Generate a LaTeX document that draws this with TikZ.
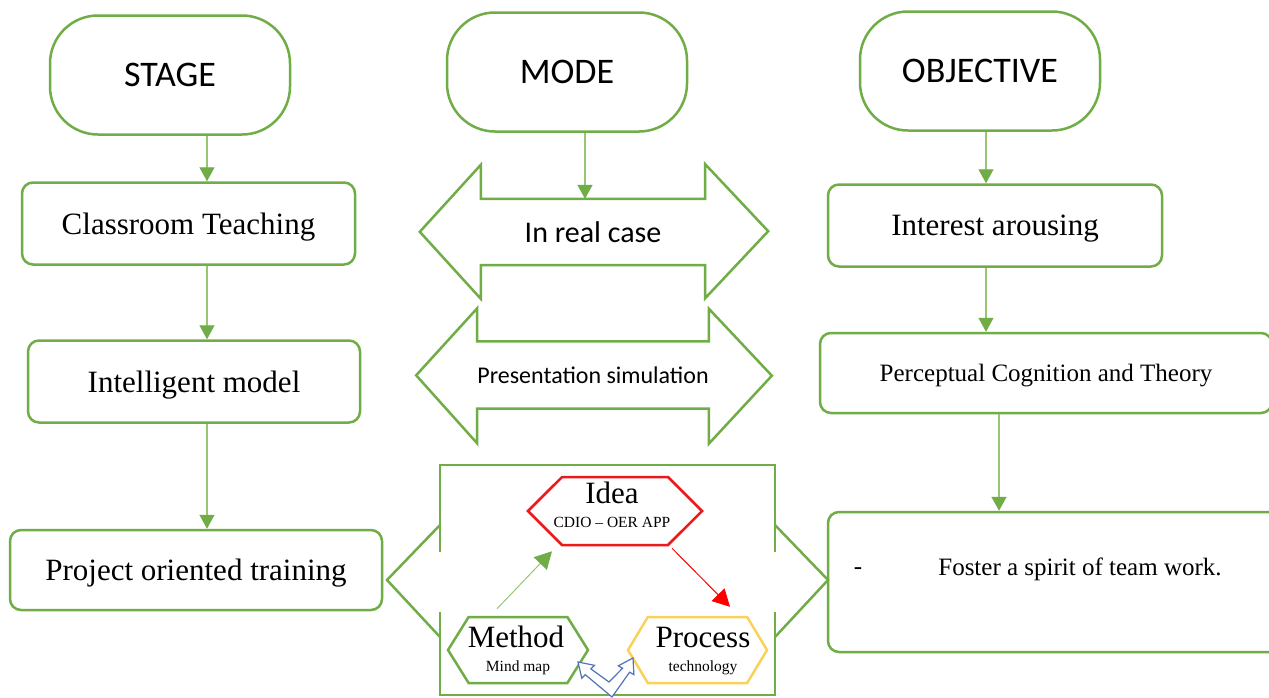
\documentclass[tikz,border=0pt]{standalone}
\usepackage{fontspec}
\setmainfont{Liberation Serif}
\newfontfamily\calib{Carlito}
\usetikzlibrary{arrows.meta,shapes.symbols}
\definecolor{boxgreen}{RGB}{112,173,71}
\definecolor{linkgreen}{RGB}{150,200,115}
\definecolor{ideared}{RGB}{235,25,25}
\definecolor{procyellow}{RGB}{250,210,90}
\definecolor{swapblue}{RGB}{80,115,185}

\begin{document}
\begin{tikzpicture}[x=1pt,y=-1pt,
    head/.style={draw=boxgreen,line width=2.5pt,rounded corners=48pt,minimum width=240pt,minimum height=119pt,font=\calib\fontsize{36}{40}\selectfont},
    box/.style={draw=boxgreen,line width=2.5pt,rounded corners=11pt,minimum height=82pt,text depth=0pt,font=\fontsize{31}{36}\selectfont},
    link/.style={draw=linkgreen,line width=1.4pt,-{Triangle[width=15pt,length=14pt,color=boxgreen]}},
    band/.style={draw=boxgreen,line width=2.5pt},
    shaft/.style={minimum width=224pt,inner sep=0pt,font=\calib\fontsize{30}{34}\selectfont},
    hexa/.style={shape=signal,signal to=west and east,line width=2.5pt,fill=white,inner sep=0pt,minimum height=66pt},
    big/.style={inner sep=0pt,text depth=0pt,font=\fontsize{31}{34}\selectfont},
    small/.style={inner sep=0pt,text depth=0pt,font=\fontsize{15.5}{18}\selectfont}]
    \fill[white] (0,0) rectangle (1269,697);
    \useasboundingbox (0,0) rectangle (1269,697);
    \coordinate (colA) at (207,0);
    \coordinate (colB) at (585,0);
    \coordinate (colC) at (986,0);
    \coordinate (colD) at (999,0);
    % headings
    \node[head] (stage) at (170,75) {STAGE};
    \node[head] (mode) at (567,72) {MODE};
    \node[head] (objective) at (980,71) {OBJECTIVE};
    % stage column
    \node[box,minimum width=333pt] (classroom) at (188.5,223.5) {Classroom Teaching};
    \node[box,minimum width=332pt] (intelligent) at (194,381.5) {Intelligent model};
    \node[box,minimum width=372pt,minimum height=80pt] (project) at (196,570) {Project oriented training};
    \draw[link] (stage.south -| colA) -- (classroom.north -| colA);
    \draw[link] (classroom.south -| colA) -- (intelligent.north -| colA);
    \draw[link] (intelligent.south -| colA) -- (project.north -| colA);
    % objective column
    \node[box,minimum width=334pt] (interest) at (995,225.5) {Interest arousing};
    \node[box,minimum width=452pt,minimum height=80pt,font=\fontsize{25}{30}\selectfont] (perceptual) at (1046,373) {Perceptual Cognition and Theory};
    \node[box,minimum width=462pt,minimum height=140pt] (foster) at (1059,582) {};
    \node[font=\fontsize{25}{30}\selectfont,text depth=0pt] (dash) at (858,571) {-};
    \node[font=\fontsize{25}{30}\selectfont,text depth=0pt] (team) at (1080,567) {Foster a spirit of team work.};
    \draw[link] (objective.south -| colC) -- (interest.north -| colC);
    \draw[link] (interest.south -| colC) -- (perceptual.north -| colC);
    \draw[link] (perceptual.south -| colD) -- (foster.north -| colD);
    % mode column
    \node[shaft,minimum height=66pt] (realcase) at (593,232) {In real case};
    \draw[band] (realcase.north west) -- ++(0,-34) -- ++(-61,67) -- ++(61,67) -- (realcase.south west)
        -- (realcase.south east) -- ++(0,33) -- ++(63,-67) -- ++(-63,-67) -- (realcase.north east) -- cycle;
    \node[shaft,minimum height=67pt,font=\calib\fontsize{24}{28}\selectfont] (simulation) at (593,375) {Presentation simulation};
    \draw[band] (simulation.north west) -- ++(0,-33) -- ++(-61,67) -- ++(61,68) -- (simulation.south west)
        -- (simulation.south east) -- ++(0,35) -- ++(63,-68) -- ++(-63,-67) -- (simulation.north east) -- cycle;
    \draw[link] (mode.south -| colB) -- (realcase.north -| colB);
    % training frame
    \draw[band] (440,552) -- (440,465) -- (775,465) -- (775,552);
    \draw[band] (440,612) -- (440,695) -- (775,695) -- (775,612);
    \draw[band] (440,525) -- (387,580) -- (440,637);
    \draw[band] (775,525) -- (828,580) -- (775,637);
    \node[hexa,draw=ideared,minimum width=174pt,minimum height=68pt,signal pointer angle=90] (idea) at (615,511) {};
    \node[big] (ideaname) at (612,493) {Idea};
    \node[small] (ideanote) at (612,522) {CDIO -- OER APP};
    \node[hexa,draw=boxgreen,minimum width=140pt,signal pointer angle=116] (method) at (518,650) {};
    \node[big] (methodname) at (516,637) {Method};
    \node[small] (methodnote) at (518,666) {Mind map};
    \node[hexa,draw=procyellow,minimum width=139pt,signal pointer angle=118] (process) at (697.5,650) {};
    \node[big] (processname) at (703,637) {Process};
    \node[small] (processnote) at (703,666) {technology};
    \draw[draw=linkgreen,line width=1pt,-{Triangle[width=18pt,length=17pt,color=boxgreen]}]
        ([shift={(-21,-7)}]method.north) -- ([shift={(-63,5)}]idea.south);
    \draw[draw=red,line width=1pt,-{Triangle[width=18pt,length=17pt]}]
        ([shift={(57,2)}]idea.south) -- ([shift={(32.5,-9)}]process.north);
    % swap arrow
    \draw[swapblue,line width=1.2pt,line join=miter,fill=white] (612,697) -- (585.3,674.7) -- (581.8,678.3) -- (578,662)
        -- (594.4,665.3) -- (590.9,668.9) -- (609,682) -- (622.6,668.2) -- (618.3,665.8) -- (633,658)
        -- (633.9,674.6) -- (629.6,672.2) -- cycle;
\end{tikzpicture}
\end{document}
